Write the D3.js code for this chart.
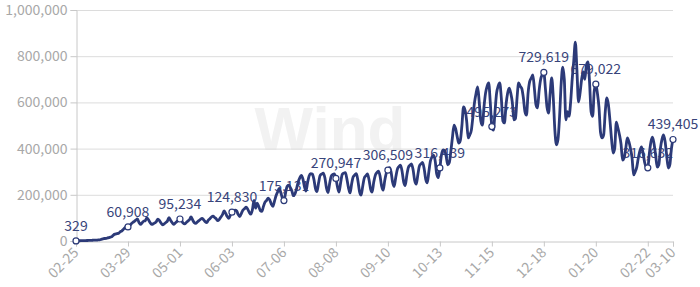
<!DOCTYPE html>
<html><head><meta charset="utf-8">
<script src="https://cdn.jsdelivr.net/npm/d3@7/dist/d3.min.js"></script>
<style>body{margin:0;background:#fff}svg{display:block}</style>
</head><body>
<svg id="chart" width="700" height="287"></svg>
<script>
const startDate = "2020-02-25";
const newCases = [
329,850,1100,1300,1700,1600,1900,
2100,2300,2600,2800,3600,3900,3800,
4600,5200,7200,9500,10800,11000,13500,
14500,17000,20500,27000,30000,32000,33000,
40000,43000,50000,57000,62000,60908,66000,
74000,80000,85000,90000,96000,80000,72000,
79000,86000,88000,100000,92000,80000,72000,
74000,78000,84000,95000,88000,78000,70000,
74000,80000,86000,101000,90000,80000,72000,
78000,84000,90000,95234,88000,78000,74000,
80000,86000,92000,104000,92000,80000,76000,
82000,88000,94000,98000,92000,84000,80000,
90000,96000,104000,108000,102000,96000,88000,
94000,104000,114000,130000,120000,106000,98000,
112000,124830,130000,134000,130000,114000,106000,
120000,134000,140000,146000,138000,124000,116000,
136000,176000,142000,164000,150000,132000,128000,
150000,168000,176000,186000,178000,160000,150000,
172000,196000,212000,228000,210000,186000,175131,
206000,236000,242000,232000,218000,196000,204000,
226000,254000,272000,284000,270000,236000,216000,
252000,282000,292000,290000,268000,228000,214000,
252000,284000,290000,294000,274000,230000,210000,
248000,280000,288000,290000,270947,234000,212000,
252000,288000,294000,296000,268000,230000,208000,
248000,278000,286000,292000,260000,214000,199000,
236000,272000,282000,290000,266000,226000,212000,
254000,284000,296000,302000,282000,238000,220000,
262000,294000,306509,318000,300000,254000,236000,
276000,310000,322000,328000,302000,256000,240000,
284000,318000,328000,334000,308000,262000,246000,
286000,324000,334000,340000,314000,268000,252000,
300000,346000,364000,372000,348000,290000,274000,
316439,372000,394000,392000,366000,330000,340000,
390000,450000,502000,486000,452000,424000,436000,
500000,580000,566000,520000,446000,460000,480000,
540000,600000,640000,667000,600000,520000,502000,
580000,640000,670000,684000,600000,495273,480000,
560000,640000,670000,684000,620000,520000,511000,
590000,640000,662000,640000,600000,524000,530000,
620000,684000,670000,660000,620000,560000,545000,
640000,690000,705000,719000,660000,590000,576000,
650000,700000,720000,729619,660000,580000,554000,
640000,706000,620000,480000,416000,440000,540000,
680000,753000,700000,524000,560000,540000,600000,
700000,780000,861000,740000,602000,640000,700000,
732000,700000,760000,775000,690000,560000,540000,
650000,679022,640000,580000,470000,446000,460000,
560000,619000,590000,520000,440000,381000,400000,
515000,490000,460000,420000,350000,360000,400000,
446000,430000,400000,360000,286000,300000,320000,
360000,390000,407000,380000,340000,320000,316632,
380000,430000,450000,420000,370000,320000,330000,
400000,440000,459000,430000,370000,316000,330000,
400000,439405
];
const tickDates = ["2020-02-25","2020-03-29","2020-05-01","2020-06-03","2020-07-06","2020-08-08",
  "2020-09-10","2020-10-13","2020-11-15","2020-12-18","2021-01-20","2021-02-22","2021-03-10"];
const yTicks = [0,200000,400000,600000,800000,1000000];

const W = 700, H = 287;
const margin = {left: 76, right: 27, top: 10, bottom: 46};
const svg = d3.select("#chart");
const parse = d3.utcParse("%Y-%m-%d");
const start = parse(startDate);
const data = newCases.map((v, i) => ({date: d3.utcDay.offset(start, i), value: v}));
const ticks = tickDates.map(parse);

const x = d3.scaleUtc().domain([data[0].date, data[data.length - 1].date]).range([margin.left, W - margin.right]);
const y = d3.scaleLinear().domain([0, 1000000]).range([H - margin.bottom, margin.top]);

const font = "'Noto Sans CJK SC','Noto Sans',sans-serif";

// watermark
svg.append("text").attr("x", 330).attr("y", 150).attr("text-anchor", "middle")
  .attr("font-family", "Arial, 'Liberation Sans', sans-serif").attr("font-weight", "bold")
  .attr("font-size", 62).attr("fill", "#f2f2f2").text("Wind");

// grid
svg.append("g").selectAll("line").data(yTicks.filter(d => d > 0)).join("line")
  .attr("x1", margin.left).attr("x2", W - margin.right)
  .attr("y1", d => y(d) + 0.5).attr("y2", d => y(d) + 0.5)
  .attr("stroke", "#dcdcdc").attr("stroke-width", 1);

// y axis
const yAxis = svg.append("g").attr("transform", `translate(${margin.left + 0.5},0)`)
  .call(d3.axisLeft(y).tickValues(yTicks).tickSize(6).tickPadding(3).tickFormat(d3.format(",")));
yAxis.select(".domain").attr("stroke", "#c8c8c8");
yAxis.selectAll(".tick line").attr("stroke", "#c8c8c8");
yAxis.selectAll("text").attr("fill", "#a8a8a8").attr("font-size", 14).attr("font-family", font);

// x axis
const xAxis = svg.append("g").attr("transform", `translate(0,${H - margin.bottom + 0.5})`)
  .call(d3.axisBottom(x).tickValues(ticks).tickSize(5).tickFormat(d3.utcFormat("%m-%d")));
xAxis.select(".domain").attr("stroke", "#c8c8c8");
xAxis.selectAll(".tick line").attr("stroke", "#c8c8c8");
xAxis.selectAll("text").attr("fill", "#a8a8a8").attr("font-size", 14).attr("font-family", font)
  .attr("text-anchor", "end").attr("dy", null).attr("y", 0)
  .attr("transform", "translate(3,12) rotate(-45)");

const labeled = data.filter(d => ticks.some(t => +t === +d.date));
const navy = "#2c3a78";

// data labels (under the line)
svg.append("g").selectAll("text").data(labeled).join("text")
  .attr("x", d => x(d.date)).attr("y", d => y(d.value) - 10)
  .attr("text-anchor", "middle").attr("font-size", 14).attr("font-family", font)
  .attr("fill", "#38447a").text(d => d3.format(",")(d.value));

// line
svg.append("path").datum(data)
  .attr("fill", "none").attr("stroke", navy).attr("stroke-width", 2.8).attr("stroke-linejoin", "round")
  .attr("d", d3.line().x(d => x(d.date)).y(d => y(d.value)).curve(d3.curveMonotoneX));

// markers
svg.append("g").selectAll("circle").data(labeled).join("circle")
  .attr("cx", d => x(d.date)).attr("cy", d => y(d.value)).attr("r", 3)
  .attr("fill", "#fff").attr("stroke", navy).attr("stroke-width", 1.2);
</script>
</body></html>
